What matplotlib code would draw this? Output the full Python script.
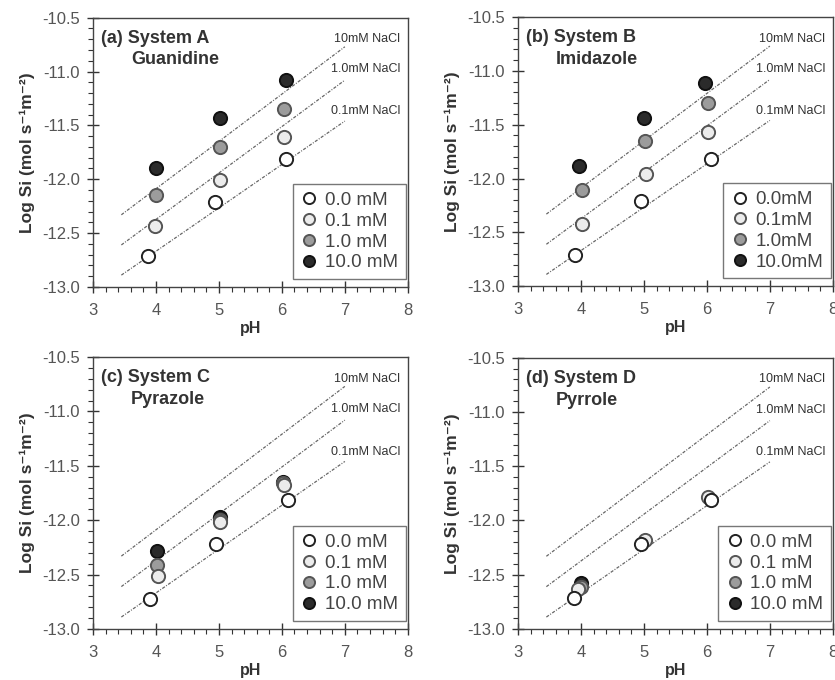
import matplotlib.pyplot as plt
from matplotlib.ticker import MultipleLocator
from matplotlib.lines import Line2D

plt.rcParams['font.family'] = ['Liberation Sans', 'DejaVu Sans']

panel_titles = ["(a) System A", "(b) System B", "(c) System C", "(d) System D"]
panel_names = ["Guanidine", "Imidazole", "Pyrazole", "Pyrrole"]
series_labels = [["0.0 mM", "0.1 mM", "1.0 mM", "10.0 mM"],
                 ["0.0mM", "0.1mM", "1.0mM", "10.0mM"],
                 ["0.0 mM", "0.1 mM", "1.0 mM", "10.0 mM"],
                 ["0.0 mM", "0.1 mM", "1.0 mM", "10.0 mM"]]

# pH / log Si per panel, per concentration (0.0, 0.1, 1.0, 10.0 mM)
ph_a = [[3.88, 4.93, 6.06], [3.98, 5.01, 6.03], [4.0, 5.02, 6.03], [4.0, 5.02, 6.06]]
si_a = [[-12.71, -12.21, -11.81], [-12.43, -12.01, -11.61], [-12.15, -11.70, -11.35], [-11.90, -11.43, -11.08]]
ph_b = [[3.90, 4.95, 6.07], [4.02, 5.04, 6.02], [4.02, 5.01, 6.02], [3.97, 5.00, 5.97]]
si_b = [[-12.71, -12.21, -11.82], [-12.42, -11.96, -11.57], [-12.11, -11.65, -11.30], [-11.88, -11.44, -11.11]]
ph_c = [[3.91, 4.96, 6.09], [4.03, 5.01, 6.03], [4.01, 5.02, 6.02], [4.01, 5.02, 6.02]]
si_c = [[-12.72, -12.22, -11.81], [-12.51, -12.02, -11.68], [-12.41, -12.00, -11.66], [-12.28, -11.97, -11.65]]
ph_d = [[3.89, 4.96, 6.07], [3.96, 5.01, 6.02], [4.0], [4.0]]
si_d = [[-12.71, -12.22, -11.81], [-12.63, -12.18, -11.78], [-12.61], [-12.58]]

# NaCl reference lines: x range and y at ends
nacl_labels = ["10mM NaCl", "1.0mM NaCl", "0.1mM NaCl"]
nacl_x = [3.45, 7.0]
nacl_y = [[-12.33, -10.77], [-12.61, -11.08], [-12.89, -11.46]]
nacl_label_y = [-10.70, -10.98, -11.37]

ph_all = [ph_a, ph_b, ph_c, ph_d]
si_all = [si_a, si_b, si_c, si_d]

faces = ["white", "#ececec", "#9c9c9c", "#2b2b2b"]
edges = ["#222222", "#555555", "#555555", "#111111"]

fig = plt.figure(figsize=(8.35, 6.8), dpi=100)
boxes = [[0.1114, 0.578, 0.377, 0.396], [0.6204, 0.579, 0.377, 0.396],
         [0.1114, 0.075, 0.377, 0.400], [0.6204, 0.075, 0.377, 0.399]]

for k in range(4):
    ax = fig.add_axes(boxes[k])
    for j in range(3):
        ax.plot(nacl_x, nacl_y[j], color="#666666", lw=0.9,
                linestyle=(0, (2.5, 1.2, 0.8, 1.2)), zorder=1)
        ax.text(7.88, nacl_label_y[j], nacl_labels[j], ha="right", va="center",
                fontsize=9, color="#333333")
    # draw high concentrations first so lighter symbols sit on top
    for i in [3, 2, 1, 0]:
        ax.plot(ph_all[k][i], si_all[k][i], "o", ms=9.5, mfc=faces[i], mec=edges[i],
                mew=1.4, ls="none", zorder=3 + (3 - i))
    ax.set_xlim(3, 8)
    ax.set_ylim(-13.0, -10.5)
    ax.xaxis.set_major_locator(MultipleLocator(1))
    ax.xaxis.set_minor_locator(MultipleLocator(0.2))
    ax.yaxis.set_major_locator(MultipleLocator(0.5))
    ax.yaxis.set_minor_locator(MultipleLocator(0.1))
    ax.yaxis.set_major_formatter(plt.FuncFormatter(lambda v, p: f"{v:.1f}"))
    ax.tick_params(which="major", direction="inout", length=9, width=1.0,
                   labelsize=12, labelcolor="#555555", color="#333333", pad=5)
    ax.tick_params(axis="x", which="major", pad=7)
    ax.tick_params(which="minor", direction="out", length=3.5, width=0.8, color="#333333")
    for s in ax.spines.values():
        s.set_color("#444444")
        s.set_linewidth(1.0)
    ax.set_xlabel("pH", fontsize=11.5, fontweight="bold", color="#333333", labelpad=2)
    ax.set_ylabel("Log Si (mol s\u207b\u00b9m\u207b\u00b2)", fontsize=12.5,
                  fontweight="bold", color="#333333", labelpad=5)
    ax.text(0.025, 0.955, panel_titles[k], transform=ax.transAxes, fontsize=13,
            fontweight="bold", color="#333333", va="top", ha="left")
    ax.text(0.12, 0.875, panel_names[k], transform=ax.transAxes, fontsize=13,
            fontweight="bold", color="#333333", va="top", ha="left")
    handles = [Line2D([], [], marker="o", ls="none", ms=8, mfc=faces[i], mec=edges[i],
                      mew=1.4) for i in range(4)]
    leg = ax.legend(handles, series_labels[k], loc="lower right", fontsize=13.5,
                    frameon=True, fancybox=False, handletextpad=0.35,
                    handlelength=1.0, labelspacing=0.2, borderpad=0.4,
                    borderaxespad=0, bbox_to_anchor=(0.994, 0.03))
    leg.get_frame().set_edgecolor("#555555")
    leg.get_frame().set_linewidth(1.0)
    for t in leg.get_texts():
        t.set_color("#444444")

fig.savefig("out.png", dpi=100)
